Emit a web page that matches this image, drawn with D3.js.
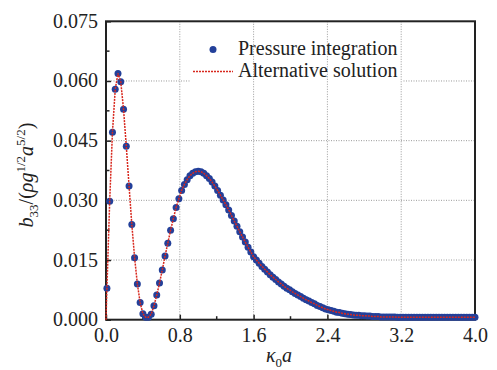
<!DOCTYPE html>
<html>
<head>
<meta charset="utf-8">
<script src="https://cdn.jsdelivr.net/npm/d3@7"></script>
<style>
  body { margin: 0; background: #fff; }
  text { font-family: "Liberation Serif", "Times New Roman", serif; fill: #222; }
</style>
</head>
<body>
<div id="graph"></div>
<script>
// kappa_0 * a sample points
var kappaA = [0.01,0.04,0.07,0.10,0.13,0.16,0.19,0.22,0.25,0.28,0.31,0.34,0.37,0.40,0.43,0.46,0.49,0.52,0.55,0.58,
	0.61,0.64,0.67,0.70,0.73,0.76,0.79,0.82,0.85,0.88,0.91,0.94,0.97,1.00,1.03,1.06,1.09,1.12,1.15,1.18,
	1.21,1.24,1.27,1.30,1.33,1.36,1.39,1.42,1.45,1.48,1.51,1.54,1.57,1.60,1.63,1.66,1.69,1.72,1.75,1.78,
	1.81,1.84,1.87,1.90,1.93,1.96,1.99,2.02,2.05,2.08,2.11,2.14,2.17,2.20,2.23,2.26,2.29,2.32,2.35,2.38,
	2.41,2.44,2.47,2.50,2.53,2.56,2.59,2.62,2.65,2.68,2.71,2.74,2.77,2.80,2.83,2.86,2.89,2.92,2.95,2.98,
	3.01,3.04,3.07,3.10,3.13,3.16,3.19,3.22,3.25,3.28,3.31,3.34,3.37,3.40,3.43,3.46,3.49,3.52,3.55,3.58,
	3.61,3.64,3.67,3.70,3.73,3.76,3.79,3.82,3.85,3.88,3.91,3.94,3.97,4.00];

// b33 from pressure integration
var pressureB33 = [0.0079,0.0298,0.0471,0.0579,0.0619,0.0598,0.0529,0.0436,0.0336,0.0239,0.0156,0.0090,0.0043,0.0015,0.0006,0.0006,0.0014,0.0035,0.0062,0.0092,
	0.0125,0.0160,0.0192,0.0225,0.0254,0.0282,0.0304,0.0325,0.0340,0.0352,0.0362,0.0368,0.0372,0.0373,0.0372,0.0368,0.0362,0.0355,0.0346,0.0336,
	0.0325,0.0313,0.0301,0.0289,0.0276,0.0262,0.0248,0.0235,0.0221,0.0208,0.0195,0.0182,0.0170,0.0158,0.0150,0.0142,0.0134,0.0127,0.0120,0.0113,
	0.0107,0.0101,0.0095,0.0090,0.0084,0.0079,0.0075,0.0070,0.0066,0.0062,0.0058,0.0054,0.0050,0.0047,0.0043,0.0040,0.0036,0.0033,0.0030,0.0027,
	0.0025,0.0023,0.0021,0.0019,0.0018,0.0016,0.0015,0.0014,0.0013,0.0012,0.0011,0.0011,0.0010,0.0010,0.0009,0.0009,0.0008,0.0008,0.0008,0.0007,
	0.0007,0.0007,0.0007,0.0007,0.0007,0.0006,0.0006,0.0006,0.0006,0.0006,0.0006,0.0006,0.0006,0.0006,0.0006,0.0006,0.0006,0.0006,0.0006,0.0006,
	0.0006,0.0006,0.0006,0.0006,0.0006,0.0006,0.0006,0.0006,0.0006,0.0006,0.0006,0.0006,0.0006,0.0006];

// alternative solution starts from the origin, then follows the same points
var altKappaA = [0.0].concat(kappaA);
var altB33 = [0.0].concat(pressureB33);

var xTicks = [0.0, 0.8, 1.6, 2.4, 3.2, 4.0],
	xMinor = [0.4, 1.2, 2.0, 2.8, 3.6],
	yTicks = [0.000, 0.015, 0.030, 0.045, 0.060, 0.075],
	yMinor = [0.0075, 0.0225, 0.0375, 0.0525, 0.0675];

var legendLabels = ["Pressure integration", "Alternative solution"];

var	SVGwidth = 497,
	SVGheight = 370,
	margin = {top: 21.3, right: 22, bottom: 50.3, left: 106},
	width = SVGwidth - margin.left - margin.right,
	height = SVGheight - margin.top - margin.bottom;

var svg = d3.select("div#graph")
				.append("svg")
				.attr("width", SVGwidth)
				.attr("height", SVGheight);

var x = d3.scaleLinear().domain([0, 4]).range([0, width]),
	y = d3.scaleLinear().domain([0, 0.075]).range([height, 0]);

var g = svg.append("g").attr("transform", "translate(" + margin.left + "," + margin.top + ")");

var dotBlue = "#23409a",
	lineRed = "#d8281e",
	gridGrey = "#9a9a9a";

// horizontal grid
g.append("g").selectAll("line")
	.data(yTicks.slice(1, -1)).enter()
	.append("line")
	.attr("x1", 0).attr("x2", width)
	.attr("y1", function(d){ return y(d); })
	.attr("y2", function(d){ return y(d); })
	.attr("stroke", gridGrey)
	.attr("stroke-width", 1)
	.attr("stroke-dasharray", "1,1.5");

// legend hides part of the 0.060 grid line
g.append("rect")
	.attr("x", 190 - margin.left).attr("y", y(0.060) - 3)
	.attr("width", 212).attr("height", 6)
	.attr("fill", "#fff");

// vertical grid
g.append("g").selectAll("line")
	.data(xTicks.slice(1, -1)).enter()
	.append("line")
	.attr("y1", 0).attr("y2", height)
	.attr("x1", function(d){ return x(d); })
	.attr("x2", function(d){ return x(d); })
	.attr("stroke", gridGrey)
	.attr("stroke-width", 1)
	.attr("stroke-dasharray", "1,1.5");

// axes, ticks pointing inward
var xAxis = d3.axisBottom(x).tickValues(xTicks).tickSize(-5).tickPadding(9)
		.tickFormat(d3.format(".1f")),
	yAxis = d3.axisLeft(y).tickValues(yTicks).tickSize(-5).tickPadding(8)
		.tickFormat(d3.format(".3f"));

var gx = g.append("g").attr("transform", "translate(0," + height + ")").call(xAxis),
	gy = g.append("g").call(yAxis);

[gx, gy].forEach(function(a){
	a.attr("font-family", null).attr("font-size", null);
	a.select(".domain").remove();
	a.selectAll(".tick line").attr("stroke", "#222").attr("stroke-width", 1.5);
	a.selectAll(".tick text")
		.style("font-size", "20px")
		.attr("fill", "#222");
});
gx.selectAll(".tick text").attr("dy", "0.71em").attr("y", 8);
gy.selectAll(".tick text").attr("dy", "0.3em");

// minor ticks
g.append("g").selectAll("line")
	.data(xMinor).enter()
	.append("line")
	.attr("x1", function(d){ return x(d); })
	.attr("x2", function(d){ return x(d); })
	.attr("y1", height).attr("y2", height - 3.5)
	.attr("stroke", "#222").attr("stroke-width", 1.5);
g.append("g").selectAll("line")
	.data(yMinor).enter()
	.append("line")
	.attr("y1", function(d){ return y(d); })
	.attr("y2", function(d){ return y(d); })
	.attr("x1", 0).attr("x2", 3.5)
	.attr("stroke", "#222").attr("stroke-width", 1.5);

// frame
g.append("rect")
	.attr("x", 0).attr("y", 0)
	.attr("width", width).attr("height", height)
	.attr("fill", "none")
	.attr("stroke", "#222")
	.attr("stroke-width", 2);

// pressure integration dots
var pts = kappaA.map(function(k, i){ return [k, pressureB33[i]]; });
g.append("g").selectAll("circle")
	.data(pts).enter()
	.append("circle")
	.attr("cx", function(d){ return x(d[0]); })
	.attr("cy", function(d){ return y(d[1]); })
	.attr("r", 3.5)
	.attr("fill", dotBlue);

// alternative solution line
var altPts = altKappaA.map(function(k, i){ return [k, altB33[i]]; });
var line = d3.line()
	.x(function(d){ return x(d[0]); })
	.y(function(d){ return y(d[1]); });
g.append("path")
	.datum(altPts)
	.attr("d", line)
	.attr("fill", "none")
	.attr("stroke", lineRed)
	.attr("stroke-width", 1.5)
	.attr("stroke-dasharray", "2,1");

// legend
var legend = svg.append("g").attr("class", "legend");
legend.append("circle")
	.attr("cx", 213).attr("cy", 49.5).attr("r", 3.5)
	.attr("fill", dotBlue);
legend.append("line")
	.attr("x1", 193).attr("x2", 233)
	.attr("y1", 71.5).attr("y2", 71.5)
	.attr("stroke", lineRed)
	.attr("stroke-width", 1.5)
	.attr("stroke-dasharray", "2,1");
legend.selectAll("text")
	.data(legendLabels).enter()
	.append("text")
	.attr("x", 238)
	.attr("y", function(d, i){ return 55 + i * 22; })
	.style("font-size", "20px")
	.text(function(d){ return d; });

// x axis label: kappa_0 a
var xl = svg.append("text")
	.attr("x", 279).attr("y", 362)
	.attr("text-anchor", "middle")
	.style("font-size", "20px");
xl.append("tspan").style("font-style", "italic").text("κ");
xl.append("tspan").attr("dy", 5).style("font-size", "13px").text("0");
xl.append("tspan").attr("dy", -5).style("font-style", "italic").text("a");

// y axis label: b33/(rho g^1/2 a^5/2)
var yl = svg.append("text")
	.attr("transform", "translate(33,175) rotate(-90)")
	.attr("text-anchor", "middle")
	.style("font-size", "20px");
yl.append("tspan").style("font-style", "italic").text("b");
yl.append("tspan").attr("dy", 5).style("font-size", "13px").text("33");
yl.append("tspan").attr("dy", -5).text("/(");
yl.append("tspan").style("font-style", "italic").text("ρg");
yl.append("tspan").attr("dy", -8).style("font-size", "13px").text("1/2");
yl.append("tspan").attr("dy", 8).style("font-style", "italic").text("a");
yl.append("tspan").attr("dy", -8).style("font-size", "13px").text("5/2");
yl.append("tspan").attr("dy", 8).text(")");
</script>
</body>
</html>
